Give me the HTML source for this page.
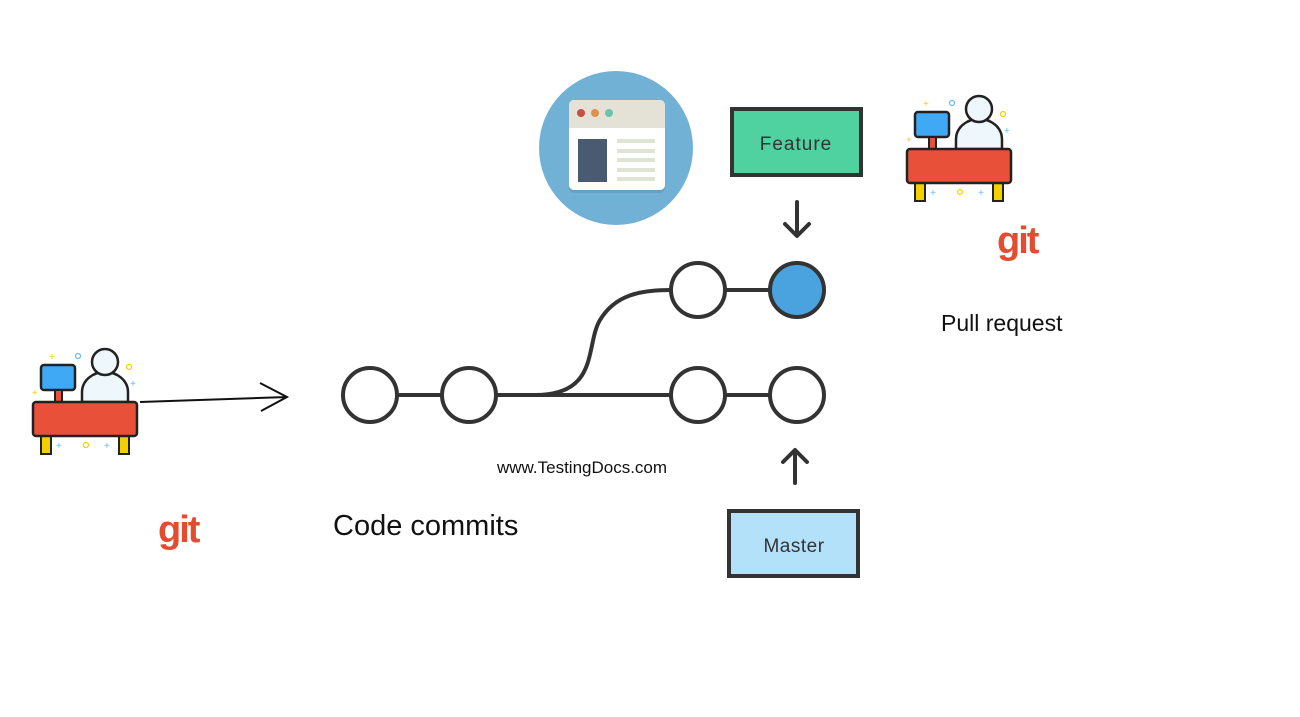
<!DOCTYPE html>
<html><head><style>
body{margin:0;width:1300px;height:712px;background:#fff;overflow:hidden;font-family:"Liberation Sans",sans-serif}
</style></head><body>
<svg width="1300" height="712" viewBox="0 0 1300 712" xmlns="http://www.w3.org/2000/svg">
<defs>
<g id="desk">
  <rect x="41" y="365" width="34" height="25" rx="3" fill="#3fa9f5" stroke="#222" stroke-width="2.5"/>
  <rect x="55" y="390" width="7" height="12" fill="#e8503a" stroke="#222" stroke-width="2"/>
  <path d="M82 402 V392 a23 20 0 0 1 46 0 V402 Z" fill="#eef7fc" stroke="#222" stroke-width="2.5"/>
  <circle cx="105" cy="362" r="13" fill="#eef7fc" stroke="#222" stroke-width="2.5"/>
  <rect x="41" y="436" width="10" height="18" fill="#f5d000" stroke="#222" stroke-width="2"/>
  <rect x="119" y="436" width="10" height="18" fill="#f5d000" stroke="#222" stroke-width="2"/>
  <rect x="33" y="402" width="104" height="34" rx="3" fill="#e8503a" stroke="#222" stroke-width="2.5"/>
  <text x="49" y="360" font-size="10" fill="#f5d000">+</text>
  <circle cx="78" cy="356" r="2.5" fill="none" stroke="#6bb8ee" stroke-width="1.2"/>
  <circle cx="129" cy="367" r="2.5" fill="none" stroke="#f5d000" stroke-width="1.2"/>
  <text x="130" y="387" font-size="10" fill="#6bb8ee">+</text>
  <text x="32" y="396" font-size="10" fill="#f5d000">+</text>
  <text x="56" y="449" font-size="10" fill="#6bb8ee">+</text>
  <circle cx="86" cy="445" r="2.5" fill="none" stroke="#f5d000" stroke-width="1.2"/>
  <text x="104" y="449" font-size="10" fill="#6bb8ee">+</text>
</g>
</defs>
<use href="#desk"/>
<use href="#desk" transform="translate(874,-253)"/>
<text x="158" y="542" font-size="38" font-weight="bold" fill="#e44c30" letter-spacing="-2">git</text>
<text x="997" y="253" font-size="38" font-weight="bold" fill="#e44c30" letter-spacing="-2">git</text>

<!-- browser circle -->
<circle cx="616" cy="148" r="77" fill="#72b1d6"/>
<rect x="569" y="102" width="96" height="91" rx="5" fill="#5f8fae" opacity="0.5"/>
<rect x="569" y="100" width="96" height="90" rx="5" fill="#fff"/>
<path d="M569 128 V105 a5 5 0 0 1 5 -5 H660 a5 5 0 0 1 5 5 V128 Z" fill="#e4e2d6"/>
<circle cx="581" cy="113" r="4" fill="#cf4b45"/>
<circle cx="595" cy="113" r="4" fill="#e0904a"/>
<circle cx="609" cy="113" r="4" fill="#6cc3a5"/>
<rect x="578" y="139" width="29" height="43" fill="#4a5a70"/>
<g fill="#dfe4d3"><rect x="617" y="139" width="38" height="4"/><rect x="617" y="149" width="38" height="4"/><rect x="617" y="158" width="38" height="4"/><rect x="617" y="168" width="38" height="4"/><rect x="617" y="177" width="38" height="4"/></g>

<!-- boxes -->
<rect x="732" y="109" width="129" height="66" fill="#4fd1a0" stroke="#333" stroke-width="4"/>
<text x="796" y="150" font-size="19" fill="#333" text-anchor="middle" letter-spacing="1">Feature</text>
<rect x="729" y="511" width="129" height="65" fill="#b4e1fa" stroke="#333" stroke-width="4"/>
<text x="794" y="552" font-size="19" fill="#333" text-anchor="middle" letter-spacing="0.5">Master</text>

<!-- arrows -->
<g stroke="#333" stroke-width="4" fill="none" stroke-linecap="round" stroke-linejoin="round">
<path d="M797 202 V235 M785 224 L797 236 L809 224"/>
<path d="M795 483 V451 M783 462 L795 450 L807 462"/>
</g>
<path d="M140 402 L287 397 M260 383 L287 397 L261 411" stroke="#111" stroke-width="2" fill="none"/>

<!-- graph -->
<g stroke="#333" stroke-width="4" fill="none">
<line x1="397" y1="395" x2="442" y2="395"/>
<line x1="496" y1="395" x2="671" y2="395"/>
<line x1="725" y1="395" x2="770" y2="395"/>
<line x1="725" y1="290" x2="770" y2="290"/>
<path d="M535 395 C600 395 585 345 600 320 C615 295 640 290 671 290"/>
<circle cx="370" cy="395" r="27" fill="#fff"/>
<circle cx="469" cy="395" r="27" fill="#fff"/>
<circle cx="698" cy="395" r="27" fill="#fff"/>
<circle cx="797" cy="395" r="27" fill="#fff"/>
<circle cx="698" cy="290" r="27" fill="#fff"/>
<circle cx="797" cy="290" r="27" fill="#4aa3df"/>
</g>

<text x="941" y="331" font-size="23" fill="#111">Pull request</text>
<text x="333" y="535" font-size="29" fill="#111">Code commits</text>
<text x="497" y="473" font-size="17" fill="#111">www.TestingDocs.com</text>
</svg>
</body></html>
